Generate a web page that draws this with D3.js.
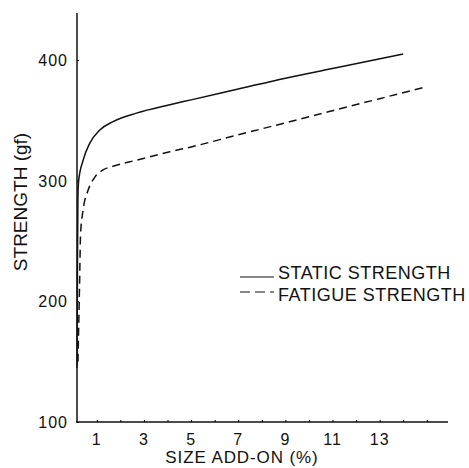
<!DOCTYPE html>
<html>
<head>
<meta charset="utf-8">
<script src="https://cdn.jsdelivr.net/npm/d3@7"></script>
<style>
  body { margin: 0; background: #fff; }
  text { font-family: "Liberation Sans", Arial, sans-serif; fill: #111; }
</style>
</head>
<body>
<div id="chart-area"></div>
<script>
// Strength vs size add-on

var staticX = [0.16, 0.18, 0.2, 0.23, 0.42, 0.7, 1.13, 1.69, 2.68, 4.1, 5, 7, 9, 11, 14];
var staticY = [145, 230, 287, 300, 317, 331, 342, 349, 356, 363, 367, 376, 385, 393, 405];
var fatigueX = [0.2, 0.27, 0.31, 0.42, 0.63, 0.92, 1.27, 1.69, 2.68, 4.1, 5, 7, 9, 11, 13, 14.9];
var fatigueY = [150, 215, 255, 276, 292, 303, 309, 312, 317, 324, 328, 338, 348, 358, 368, 377.5];
var xTickLabels = [1, 3, 5, 7, 9, 11, 13];
var xMinorTicks = [1, 2, 3, 4, 5, 6, 7, 8, 9, 10, 11, 12, 13, 14, 15];
var yTickLabels = [100, 200, 300, 400];
var legendNames = ["STATIC STRENGTH", "FATIGUE STRENGTH"];

var svg = d3.select("#chart-area")
    .append("svg")
        .attr("width", 469)
        .attr("height", 468);

// Scales
var x = d3.scaleLinear()
    .domain([0.16, 15.9])
    .range([77, 448]);
var y = d3.scaleLinear()
    .domain([100, 439])
    .range([422, 13]);

// Axes lines
svg.append("line")
    .attr("x1", 77).attr("x2", 77)
    .attr("y1", y(439)).attr("y2", y(100))
    .attr("stroke", "#111").attr("stroke-width", 1.5);
svg.append("line")
    .attr("x1", 76).attr("x2", x(15.9))
    .attr("y1", y(100)).attr("y2", y(100))
    .attr("stroke", "#111").attr("stroke-width", 1.5);

// Y ticks
var yAxis = d3.axisRight(y)
    .tickValues(yTickLabels)
    .tickSize(2)
    .tickFormat("");
svg.append("g")
    .attr("transform", "translate(77,0)")
    .call(yAxis)
    .call(function(g){ g.select(".domain").remove(); });

yTickLabels.forEach(function(v){
    svg.append("text")
        .attr("x", 68)
        .attr("y", y(v) + 6)
        .attr("text-anchor", "end")
        .attr("font-size", "16px")
        .attr("letter-spacing", "1px")
        .text(v);
});

// X ticks
var xAxis = d3.axisTop(x)
    .tickValues(xMinorTicks)
    .tickSize(2)
    .tickFormat("");
svg.append("g")
    .attr("transform", "translate(0," + y(100) + ")")
    .call(xAxis)
    .call(function(g){ g.select(".domain").remove(); });

xTickLabels.forEach(function(v){
    svg.append("text")
        .attr("x", x(v))
        .attr("y", 445)
        .attr("text-anchor", "middle")
        .attr("font-size", "16px")
        .attr("letter-spacing", "1px")
        .text(v);
});

// Axis titles
svg.append("text")
    .attr("x", 242)
    .attr("y", 463)
    .attr("text-anchor", "middle")
    .attr("font-size", "17px")
    .attr("letter-spacing", "0.9px")
    .text("SIZE ADD-ON (%)");
svg.append("text")
    .attr("transform", "translate(27,202) rotate(-90)")
    .attr("text-anchor", "middle")
    .attr("font-size", "19px")
    .text("STRENGTH (gf)");

// Curves
var line = d3.line()
    .x(function(d){ return x(d[0]); })
    .y(function(d){ return y(d[1]); })
    .curve(d3.curveMonotoneX);

svg.append("path")
    .datum(d3.zip(staticX, staticY))
    .attr("d", line)
    .attr("fill", "none")
    .attr("stroke", "#111")
    .attr("stroke-width", 1.5);

svg.append("path")
    .datum(d3.zip(fatigueX, fatigueY))
    .attr("d", line)
    .attr("fill", "none")
    .attr("stroke", "#111")
    .attr("stroke-width", 1.5)
    .attr("stroke-dasharray", "8,5");

// Legend
var legend = svg.append("g")
    .attr("transform", "translate(240,277)");

legendNames.forEach(function(name, i){
    var row = legend.append("g")
        .attr("transform", "translate(0," + (i * 22) + ")");
    row.append("line")
        .attr("x1", 0).attr("x2", 34)
        .attr("y1", i == 0 ? 0 : -7).attr("y2", i == 0 ? 0 : -7)
        .attr("stroke", "#111")
        .attr("stroke-width", 1.2)
        .attr("stroke-dasharray", i == 0 ? null : "10,5");
    row.append("text")
        .attr("x", 38)
        .attr("y", 2)
        .attr("font-size", "18px")
        .attr("letter-spacing", "0.5px")
        .text(name);
});
</script>
</body>
</html>
